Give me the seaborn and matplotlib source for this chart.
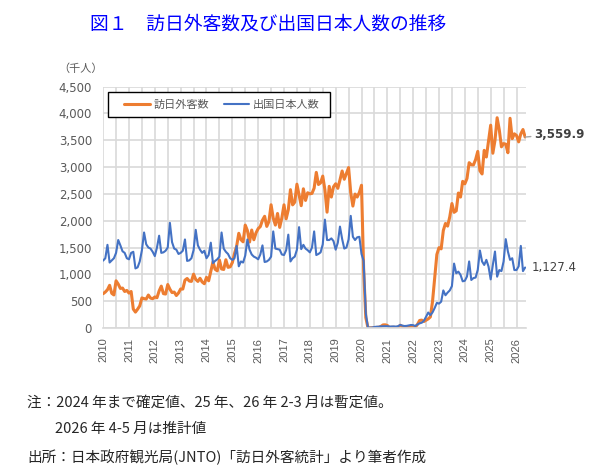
"""
Figure 1: monthly visitor arrivals to Japan and Japanese departures (thousands),
Jan 2010 - May 2026, values read off the JNTO chart.
"""

import numpy as np
import pandas as pd
import matplotlib
matplotlib.use("Agg")
import matplotlib.pyplot as plt
from matplotlib.patches import Rectangle
import seaborn as sns

sns.set_style("whitegrid")
plt.rcParams["font.family"] = ["Noto Sans CJK JP", "DejaVu Sans"]

# ---- data (thousands of persons, monthly) ----
visitors = [
    639, 670, 713, 795, 645, 616, 879, 818, 737, 744, 680, 700,            # 2010
    650, 680, 352, 296, 350, 412, 560, 547, 539, 614, 557, 546,            # 2011
    578, 564, 690, 780, 640, 632, 810, 723, 660, 669, 605, 652,            # 2012
    727, 725, 891, 923, 875, 868, 1003, 906, 868, 926, 857, 825,           # 2013
    944, 880, 1059, 1229, 1095, 1065, 1269, 1100, 1091, 1272, 1130, 1140,  # 2014
    1219, 1387, 1525, 1765, 1646, 1606, 1918, 1817, 1602, 1826, 1645, 1773,  # 2015
    1852, 1891, 2010, 2082, 1894, 1985, 2297, 2049, 1918, 2135, 1875, 2052,  # 2016
    2296, 2035, 2205, 2579, 2295, 2346, 2681, 2478, 2280, 2595, 2378, 2521,  # 2017
    2501, 2509, 2607, 2901, 2675, 2705, 2832, 2578, 2159, 2641, 2441, 2632,  # 2018
    2689, 2604, 2760, 2927, 2773, 2880, 2991, 2520, 2273, 2497, 2441, 2526,  # 2019
    2661, 1085, 194, 2.9, 1.7, 2.6, 3.8, 8.7, 13.7, 27.4, 56.7, 58.7,      # 2020
    46.5, 7.4, 12.3, 10.9, 10.0, 9.3, 51.1, 25.9, 17.7, 22.1, 20.7, 12.1,  # 2021
    17.8, 16.7, 66.1, 139.5, 147.0, 120.4, 144.5, 169.9, 206.6, 498.6, 934.5, 1370.1,  # 2022
    1497, 1475, 1817, 1949, 1899, 2073, 2320, 2156, 2184, 2516, 2441, 2734,  # 2023
    2688, 2788, 3082, 3043, 3040, 3140, 3292, 2932, 2872, 3312, 3188, 3490,  # 2024
    3781, 3258, 3497, 3920, 3693, 3378, 3437, 3428, 3267, 3910, 3530, 3620,  # 2025
    3590, 3470, 3620, 3700, 3559.9,                                         # 2026
]

departures = [
    1256, 1300, 1550, 1220, 1260, 1300, 1400, 1640, 1540, 1430, 1400, 1300,  # 2010
    1280, 1400, 1420, 1110, 1130, 1240, 1450, 1780, 1560, 1500, 1480, 1420,  # 2011
    1340, 1500, 1720, 1400, 1410, 1440, 1500, 1960, 1600, 1480, 1460, 1380,  # 2012
    1400, 1440, 1650, 1250, 1260, 1300, 1450, 1830, 1540, 1460, 1400, 1440,  # 2013
    1300, 1360, 1590, 1210, 1250, 1280, 1330, 1780, 1480, 1420, 1380, 1300,  # 2014
    1270, 1300, 1530, 1150, 1240, 1220, 1350, 1650, 1460, 1370, 1330, 1310,  # 2015
    1280, 1370, 1540, 1230, 1240, 1270, 1330, 1800, 1480, 1470, 1460, 1370,  # 2016
    1360, 1450, 1740, 1240, 1300, 1330, 1460, 1880, 1470, 1550, 1480, 1450,  # 2017
    1410, 1500, 1800, 1360, 1380, 1410, 1560, 2020, 1640, 1640, 1670, 1620,  # 2018
    1460, 1590, 1890, 1660, 1480, 1500, 1650, 2090, 1700, 1640, 1690, 1700,  # 2019
    1380, 1250, 270, 3.9, 4.8, 8.2, 18.4, 23.4, 23.2, 31.1, 32.5, 34.1,    # 2020
    33.9, 26.0, 27.0, 29.0, 25.0, 34.0, 56.0, 44.0, 36.0, 39.0, 48.0, 56.0,  # 2021
    52, 36, 66, 86, 98, 135, 209, 288, 239, 291, 373, 468,                  # 2022
    454, 490, 700, 610, 660, 700, 781, 1200, 1020, 1050, 990, 870,          # 2023
    880, 960, 1240, 895, 930, 940, 1083, 1444, 1240, 1175, 1270, 1145,      # 2024
    906, 1175, 1425, 956, 1080, 1060, 1240, 1656, 1425, 1270, 1300, 1080,   # 2025
    1080, 1150, 1530, 1060, 1127.4,                                         # 2026
]

tick_years = list(range(2010, 2027))
series_names = ["訪日外客数", "出国日本人数"]
series_colors = ["#ED7D31", "#4472C4"]

title = "図１　訪日外客数及び出国日本人数の推移"
notes = [
    "注：2024 年まで確定値、25 年、26 年 2-3 月は暫定値。",
    "2026 年 4-5 月は推計値",
    "出所：日本政府観光局(JNTO)「訪日外客統計」より筆者作成",
]

# ---- long-form frame for seaborn ----
months = np.arange(len(visitors))
df = pd.DataFrame({
    "month": np.concatenate([months, months]),
    "value": visitors + departures,
    "series": [series_names[0]] * len(visitors) + [series_names[1]] * len(departures),
})

fig = plt.figure(figsize=(6.14, 4.76), dpi=100)
ax = fig.add_axes([0.168, 0.311, 0.689, 0.507])

# orange first, blue drawn on top
sns.lineplot(data=df[df["series"] == series_names[0]], x="month", y="value",
             color=series_colors[0], linewidth=2.2, ax=ax, label=series_names[0])
sns.lineplot(data=df[df["series"] == series_names[1]], x="month", y="value",
             color=series_colors[1], linewidth=1.5, ax=ax, label=series_names[1])

ax.set_xlim(0, 196.5)
ax.set_ylim(0, 4500)
ax.set_yticks(np.arange(0, 4501, 500))
ax.set_yticklabels([f"{v:,}" for v in range(0, 4501, 500)],
                   fontsize=8.5, color="#595959", family="DejaVu Sans")
ax.set_xticks([12 * i for i in range(len(tick_years))])
ax.set_xticks([12 * i + 6 for i in range(len(tick_years) - 1)], minor=True)
ax.set_xticklabels([str(y) for y in tick_years], rotation=90,
                   fontsize=8, color="#595959", family="Liberation Sans")
ax.set_xlabel("")
ax.set_ylabel("")
ax.tick_params(axis="y", which="both", length=0, pad=8)
ax.tick_params(axis="x", which="both", length=0, pad=7)

ax.grid(True, which="both", axis="x", color="#D9D9D9", linewidth=1.2)
ax.grid(True, which="major", axis="y", color="#D9D9D9", linewidth=1.2)
ax.set_axisbelow(True)
for side in ["left", "right", "top"]:
    ax.spines[side].set_visible(False)
ax.spines["bottom"].set_color("#D9D9D9")
ax.spines["bottom"].set_linewidth(1.2)

# legend: frameless entries inside a hand-drawn square box
ax.add_patch(Rectangle((0.0118, 0.874), 0.525, 0.1036, transform=ax.transAxes,
                       facecolor="white", edgecolor="black", linewidth=1.0,
                       zorder=5, clip_on=False))
leg = ax.legend(loc="center left", bbox_to_anchor=(0.05, 0.926), ncol=2,
                fontsize=8, frameon=False, handlelength=2.3,
                handletextpad=0.3, columnspacing=1.35, borderpad=0,
                borderaxespad=0)
leg.set_zorder(6)
for t in leg.get_texts():
    t.set_color("#595959")

# end-of-series value labels
ax.annotate(f"{visitors[-1]:,.1f}", xy=(months[-1], visitors[-1]),
            xytext=(9, 3), textcoords="offset pixels", ha="left", va="center",
            fontsize=8.5, fontweight="bold", color="#404040", family="DejaVu Sans",
            annotation_clip=False,
            arrowprops=dict(arrowstyle="-", color="#A6A6A6", lw=1, shrinkA=0, shrinkB=0))
ax.annotate(f"{departures[-1]:,.1f}", xy=(months[-1], departures[-1]),
            xytext=(7, 0), textcoords="offset pixels", ha="left", va="center",
            fontsize=8.5, color="#404040", family="DejaVu Sans", annotation_clip=False)

fig.text(81 / 614, 1 - 69 / 476, "（千人）", fontsize=8, color="#595959",
         ha="center", va="center")
fig.text(90 / 614, 1 - 24 / 476, title, fontsize=13.5, color="#0000FF",
         ha="left", va="center")
fig.text(27 / 614, 1 - 403 / 476, notes[0], fontsize=10.5, ha="left", va="center")
fig.text(55 / 614, 1 - 429 / 476, notes[1], fontsize=10.5, ha="left", va="center")
fig.text(27 / 614, 1 - 457 / 476, notes[2], fontsize=10.5, ha="left", va="center")

fig.savefig("out.png", dpi=100)
print("Saved out.png")
